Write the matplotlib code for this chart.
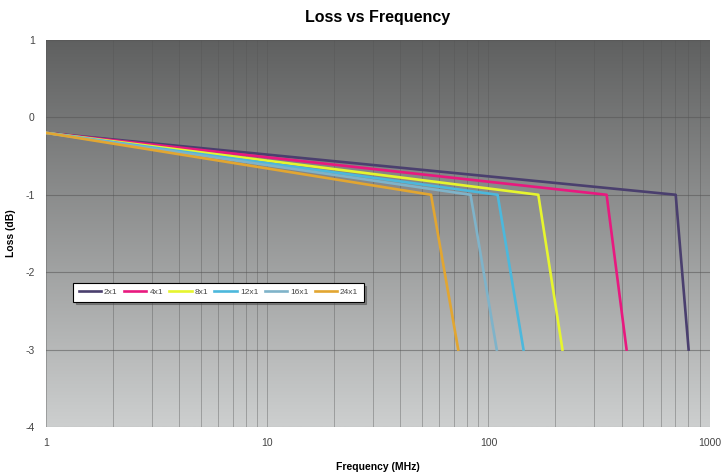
import numpy as np
import matplotlib
matplotlib.use("Agg")
import matplotlib.pyplot as plt
from matplotlib.ticker import LogLocator, FixedLocator

plt.rcParams['font.family'] = ['Liberation Sans', 'DejaVu Sans']
plt.rcParams['axes.unicode_minus'] = False

# Données
series = ['2x1', '4x1', '8x1', '12x1', '16x1', '24x1']
colors = ['#4a3f6e', '#e8197f', '#e6f52e', '#4cb8dc', '#7fb3c9', '#e2a631']
f_start = [1, 1, 1, 1, 1, 1]
f_knee = [702, 342, 168, 110, 83, 55]
f_end = [803, 421, 216, 144, 109, 73]
loss_start = [-0.2, -0.2, -0.2, -0.2, -0.2, -0.2]
loss_knee = [-1.0, -1.0, -1.0, -1.0, -1.0, -1.0]
loss_end = [-3.0, -3.0, -3.0, -3.0, -3.0, -3.0]

fig = plt.figure(figsize=(7.23, 4.74), dpi=100)
ax = fig.add_axes([0.0636, 0.0992, 0.918, 0.8165])

# fond en dégradé gris
grad = np.linspace(0, 1, 256).reshape(-1, 1)
ax.imshow(grad, extent=[0, 1, 0, 1], transform=ax.transAxes, aspect='auto',
          cmap=matplotlib.colors.LinearSegmentedColormap.from_list('g', ['#5f6060', '#cdcfcf']),
          origin='upper', zorder=0)

for i in range(len(series)):
    xs = [f_start[i], f_knee[i], f_end[i]]
    ys = [loss_start[i], loss_knee[i], loss_end[i]]
    ax.plot(xs, ys, color=colors[i], lw=1.9, label=series[i], zorder=3)

ax.set_xscale('log')
ax.set_xlim(1, 1000)
ax.set_ylim(-4, 1)
ax.xaxis.set_major_locator(FixedLocator([1, 10, 100, 1000]))
ax.xaxis.set_minor_locator(LogLocator(base=10, subs=np.arange(2, 10)))
ax.xaxis.set_minor_formatter(matplotlib.ticker.NullFormatter())
ax.set_xticklabels(['1', '10', '100', '1000'])
ax.set_yticks([-4, -3, -2, -1, 0, 1])
ax.grid(True, which='both', axis='x', color='#555555', lw=0.6, alpha=0.45, zorder=1)
ax.grid(True, which='major', axis='y', color='#555555', lw=0.8, alpha=0.55, zorder=1)
ax.set_axisbelow(True)
ax.tick_params(which='both', length=0, labelsize=7.5, colors='#444444', pad=8)
for s in ax.spines.values():
    s.set_visible(False)

ax.set_title('Loss vs Frequency', fontsize=11.5, fontweight='bold', pad=13)
ax.set_xlabel('Frequency (MHz)', fontsize=7.5, fontweight='bold', labelpad=10)
ax.set_ylabel('Loss (dB)', fontsize=7.5, fontweight='bold', labelpad=7)

leg = ax.legend(ncol=6, loc='upper left', bbox_to_anchor=(0.041, 0.372), fontsize=6,
                handlelength=2.7, handletextpad=0.35, columnspacing=0.75,
                borderpad=0.65, borderaxespad=0, fancybox=False, shadow=True, framealpha=1)
leg.get_frame().set_edgecolor('black')
leg.get_frame().set_linewidth(0.8)
for t in leg.get_texts():
    t.set_color('#444444')

plt.savefig('out.png', dpi=100)
